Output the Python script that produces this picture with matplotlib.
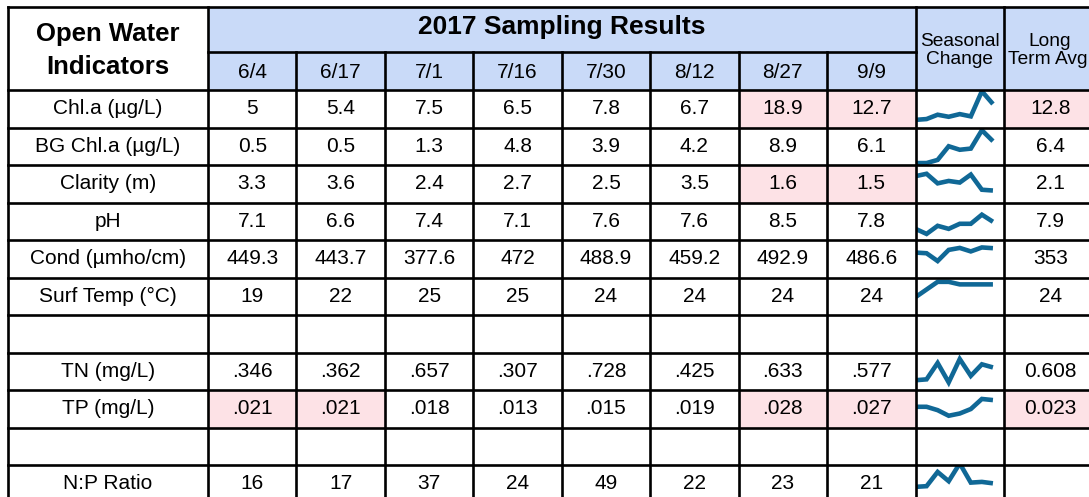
import matplotlib
matplotlib.use('Agg')
import matplotlib.pyplot as plt
from matplotlib.patches import Rectangle

plt.rcParams['font.family'] = ['Liberation Sans', 'DejaVu Sans']

title = '2017 Sampling Results'
dates = ['6/4', '6/17', '7/1', '7/16', '7/30', '8/12', '8/27', '9/9']
indicators = ['Chl.a (µg/L)', 'BG Chl.a (µg/L)', 'Clarity (m)', 'pH', 'Cond (µmho/cm)',
              'Surf Temp (°C)', '', 'TN (mg/L)', 'TP (mg/L)', '', 'N:P Ratio']
results = [
    ['5', '5.4', '7.5', '6.5', '7.8', '6.7', '18.9', '12.7'],
    ['0.5', '0.5', '1.3', '4.8', '3.9', '4.2', '8.9', '6.1'],
    ['3.3', '3.6', '2.4', '2.7', '2.5', '3.5', '1.6', '1.5'],
    ['7.1', '6.6', '7.4', '7.1', '7.6', '7.6', '8.5', '7.8'],
    ['449.3', '443.7', '377.6', '472', '488.9', '459.2', '492.9', '486.6'],
    ['19', '22', '25', '25', '24', '24', '24', '24'],
    [],
    ['.346', '.362', '.657', '.307', '.728', '.425', '.633', '.577'],
    ['.021', '.021', '.018', '.013', '.015', '.019', '.028', '.027'],
    [],
    ['16', '17', '37', '24', '49', '22', '23', '21'],
]
long_term = ['12.8', '6.4', '2.1', '7.9', '353', '24', '', '0.608', '0.023', '', '']
# sparkline value range per row (as drawn in the sheet)
spark_lo = [1.3, 0.0, 0.0, 6.0, 238, 12.0, None, 0.17, 0.0025, None, -6.0]
spark_hi = [19.5, 9.6, 4.7, 9.7, 556, 26.7, None, 0.846, 0.036, None, 46.8]
# highlighted cells: (row, column) ; column 8 = long term avg
flagged = [(0, 6), (0, 7), (0, 8), (2, 6), (2, 7), (8, 0), (8, 1), (8, 6), (8, 7), (8, 8)]

blue = '#c9daf8'
pink = '#fde2e6'
spark_color = '#106896'

# layout in pixels
x_left, x_label = 8, 208
date_w = (915.5 - 208) / len(dates)
x_season = 915.5
x_long = 1004
x_right = 1097
y_top, y_title, y_head = 7, 52, 90
row_h = 37.5
body_fs = 15
small_fs = 13.8

fig = plt.figure(figsize=(10.89, 4.97), dpi=100)
ax = fig.add_axes([0, 0, 1, 1])
ax.set_xlim(0, 1089)
ax.set_ylim(497, 0)
ax.axis('off')

col_x = [x_label + i * date_w for i in range(len(dates) + 1)]
n_rows = len(indicators)
y_bottom = y_head + n_rows * row_h

# header fills
ax.add_patch(Rectangle((x_label, y_top), x_right - x_label, y_head - y_top,
                       facecolor=blue, edgecolor='none', zorder=0))

# pink cells
for r, c in flagged:
    y0 = y_head + r * row_h
    if c < 8:
        ax.add_patch(Rectangle((col_x[c], y0), date_w, row_h, facecolor=pink,
                               edgecolor='none', zorder=0))
    else:
        ax.add_patch(Rectangle((x_long, y0), x_right - x_long, row_h, facecolor=pink,
                               edgecolor='none', zorder=0))

# header text
ax.text(108, 34, 'Open Water', ha='center', va='center', fontsize=18.5, fontweight='bold')
ax.text(108, 67, 'Indicators', ha='center', va='center', fontsize=18.5, fontweight='bold')
ax.text((x_label + x_season) / 2, 27, title, ha='center', va='center',
        fontsize=19, fontweight='bold')
for i, d in enumerate(dates):
    ax.text(col_x[i] + date_w / 2, 73, d, ha='center', va='center', fontsize=body_fs)
ax.text((x_season + x_long) / 2, 42, 'Seasonal', ha='center', va='center', fontsize=small_fs)
ax.text((x_season + x_long) / 2, 59, 'Change', ha='center', va='center', fontsize=small_fs)
ax.text(1050, 42, 'Long', ha='center', va='center', fontsize=small_fs)
ax.text(1008, 59, 'Term Avg', ha='left', va='center', fontsize=small_fs)

# body
for r in range(n_rows):
    yc = y_head + (r + 0.5) * row_h
    ax.text((x_left + x_label) / 2, yc, indicators[r], ha='center', va='center', fontsize=body_fs)
    for c, v in enumerate(results[r]):
        ax.text(col_x[c] + date_w / 2, yc, v, ha='center', va='center', fontsize=body_fs)
    if long_term[r]:
        ax.text((x_long + x_right) / 2, yc, long_term[r], ha='center', va='center',
                fontsize=body_fs)
    if results[r]:
        vals = [float(v) for v in results[r]]
        lo, hi = spark_lo[r], spark_hi[r]
        cell_w = x_long - x_season
        y0 = y_head + r * row_h
        xs = [x_season + i * cell_w / 8 for i in range(len(vals))]
        ys = [y0 + row_h - (v - lo) / (hi - lo) * row_h for v in vals]
        clip = Rectangle((x_season, y0), cell_w, row_h, transform=ax.transData)
        line, = ax.plot(xs, ys, color=spark_color, lw=3.3, solid_joinstyle='miter',
                        solid_capstyle='butt', zorder=2)
        line.set_clip_path(clip)

# grid lines
lw = 1.9
ax.plot([x_left, x_right], [y_top, y_top], color='black', lw=lw, zorder=3)
ax.plot([x_label, x_season], [y_title, y_title], color='black', lw=lw, zorder=3)
for r in range(n_rows + 1):
    y = y_head + r * row_h
    ax.plot([x_left, x_right], [y, y], color='black', lw=lw, zorder=3)
for x in [x_left, x_label, x_season, x_long, x_right]:
    ax.plot([x, x], [y_top, y_bottom], color='black', lw=lw, zorder=3)
for x in col_x[1:-1]:
    ax.plot([x, x], [y_title, y_bottom], color='black', lw=lw, zorder=3)

fig.savefig('out.png', dpi=100)
